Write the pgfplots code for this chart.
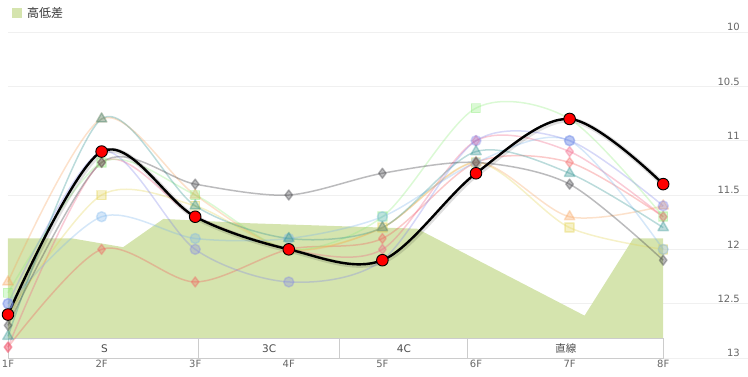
\documentclass[border=0pt]{standalone}
\usepackage{pgfplots}
\pgfplotsset{compat=1.18}
\usepackage{fontspec}
\setmainfont{DejaVu Sans}
\newfontfamily\cjk{Noto Sans CJK JP}
\definecolor{areacol}{RGB}{213,228,174}
\definecolor{hcblue}{HTML}{7CB5EC}
\definecolor{hcgray}{HTML}{434348}
\definecolor{hcgreen}{HTML}{90ED7D}
\definecolor{hcorange}{HTML}{F7A35C}
\definecolor{hcpurple}{HTML}{8085E9}
\definecolor{hcpink}{HTML}{F15C80}
\definecolor{hcyellow}{HTML}{E4D354}
\definecolor{hcteal}{HTML}{2B908F}
\definecolor{hcred}{HTML}{F45B5B}
\definecolor{lbl}{HTML}{666666}
\definecolor{boxcol}{HTML}{CCCCCC}
\begin{document}
\begin{tikzpicture}
\useasboundingbox (0,0) rectangle (748pt,-376pt);
\fill[areacol] (12pt,-8pt) rectangle (22pt,-18pt);
\node[anchor=west, inner sep=0pt, text=black!80, font=\fontsize{12}{14}\selectfont\cjk] at (27pt,-13pt) {高低差};
\begin{axis}[
  at={(8pt,-358pt)}, anchor=south west,
  scale only axis, width=740pt, height=326pt,
  xmin=0, xmax=7.906, ymin=10, ymax=13, y dir=reverse,
  axis line style={draw=none}, major tick length=0pt,
  ymajorgrids, grid style={color=black!6, line width=0.7pt},
  xtick={0,...,7}, xticklabels={1F,2F,3F,4F,5F,6F,7F,8F},
  ytick={10,10.5,11,11.5,12,12.5,13},
  yticklabel pos=right,
  /pgf/number format/assume math mode=true,
  xticklabel style={font=\fontsize{10}{12}\selectfont, text=lbl, inner sep=1pt, yshift=-1pt},
  yticklabel style={font=\fontsize{10}{12}\selectfont, text=lbl, anchor=south east, inner sep=1pt, xshift=-7pt},
  clip=false,
  every axis plot/.append style={line join=round},
]
% elevation area
\addplot[fill=areacol, draw=none] coordinates {
 (0,12.82) (0,11.90) (0.69,11.90) (1.23,11.98) (1.66,11.72) (2.59,11.76) (4.37,11.81) (6.16,12.61) (6.68,11.90) (7,11.90) (7,12.82)} -- cycle;
% category box
\draw[boxcol, fill=white, line width=0.8pt] (axis cs:0,12.82) rectangle (axis cs:7,13);
\draw[boxcol, line width=0.8pt] (axis cs:2.03,12.82) -- (axis cs:2.03,13);
\draw[boxcol, line width=0.8pt] (axis cs:3.54,12.82) -- (axis cs:3.54,13);
\draw[boxcol, line width=0.8pt] (axis cs:4.91,12.82) -- (axis cs:4.91,13);
\node[text=black!70, font=\fontsize{10.5}{12}\selectfont] at (axis cs:1.03,12.91) {S};
\node[text=black!70, font=\fontsize{10.5}{12}\selectfont] at (axis cs:2.79,12.91) {3C};
\node[text=black!70, font=\fontsize{10.5}{12}\selectfont] at (axis cs:4.23,12.91) {4C};
\node[text=black!70, font=\fontsize{10.5}{12}\selectfont\cjk] at (axis cs:5.96,12.91) {直線};
% faint series
\pgfplotsset{faint/.style={smooth, tension=0.5, line width=1.5pt, opacity=0.32, #1, mark options={solid, fill=#1, draw=none}}}
\addplot[faint=hcred, mark=diamond*, mark size=5pt] coordinates {(0,12.9) (1,12.0) (2,12.3) (3,12.0) (4,11.9) (5,11.2) (6,11.2) (7,11.7)};
\addplot[faint=hcpink, mark=diamond*, mark size=5pt] coordinates {(0,12.9) (1,11.2) (2,11.7) (3,12.0) (4,12.0) (5,11.0) (6,11.1) (7,11.7)};
\addplot[faint=hcyellow, mark=square*, mark size=4.5pt] coordinates {(0,12.6) (1,11.5) (2,11.6) (3,12.0) (4,11.8) (5,11.2) (6,11.8) (7,12.0)};
\addplot[faint=hcorange, mark=triangle*, mark size=6pt] coordinates {(0,12.3) (1,10.8) (2,11.5) (3,12.0) (4,11.8) (5,11.2) (6,11.7) (7,11.6)};
\addplot[faint=hcgreen, mark=square*, mark size=4.5pt] coordinates {(0,12.4) (1,11.2) (2,11.5) (3,12.0) (4,11.7) (5,10.7) (6,10.8) (7,11.7)};
\addplot[faint=hcblue, mark=*, mark size=5pt] coordinates {(0,12.5) (1,11.7) (2,11.9) (3,11.9) (4,11.7) (5,11.2) (6,11.0) (7,12.0)};
\addplot[faint=hcpurple, mark=*, mark size=5pt] coordinates {(0,12.5) (1,11.1) (2,12.0) (3,12.3) (4,12.1) (5,11.0) (6,11.0) (7,11.6)};
\addplot[faint=hcteal, mark=triangle*, mark size=6pt] coordinates {(0,12.8) (1,10.8) (2,11.6) (3,11.9) (4,11.8) (5,11.1) (6,11.3) (7,11.8)};
\addplot[faint=hcgray, mark=diamond*, mark size=5pt, opacity=0.36] coordinates {(0,12.7) (1,11.2) (2,11.4) (3,11.5) (4,11.3) (5,11.2) (6,11.4) (7,12.1)};
% highlighted series: shadow then line
\addplot[smooth, tension=0.55, line width=5pt, black, opacity=0.12, xshift=1pt, yshift=-1pt] coordinates {(0,12.6) (1,11.1) (2,11.7) (3,12.0) (4,12.1) (5,11.3) (6,10.8) (7,11.4)};
\addplot[smooth, tension=0.55, line width=2.4pt, black, mark=*, mark size=5.8pt, mark options={fill=red, draw=black, line width=0.9pt}] coordinates {(0,12.6) (1,11.1) (2,11.7) (3,12.0) (4,12.1) (5,11.3) (6,10.8) (7,11.4)};
\end{axis}
\end{tikzpicture}
\end{document}
